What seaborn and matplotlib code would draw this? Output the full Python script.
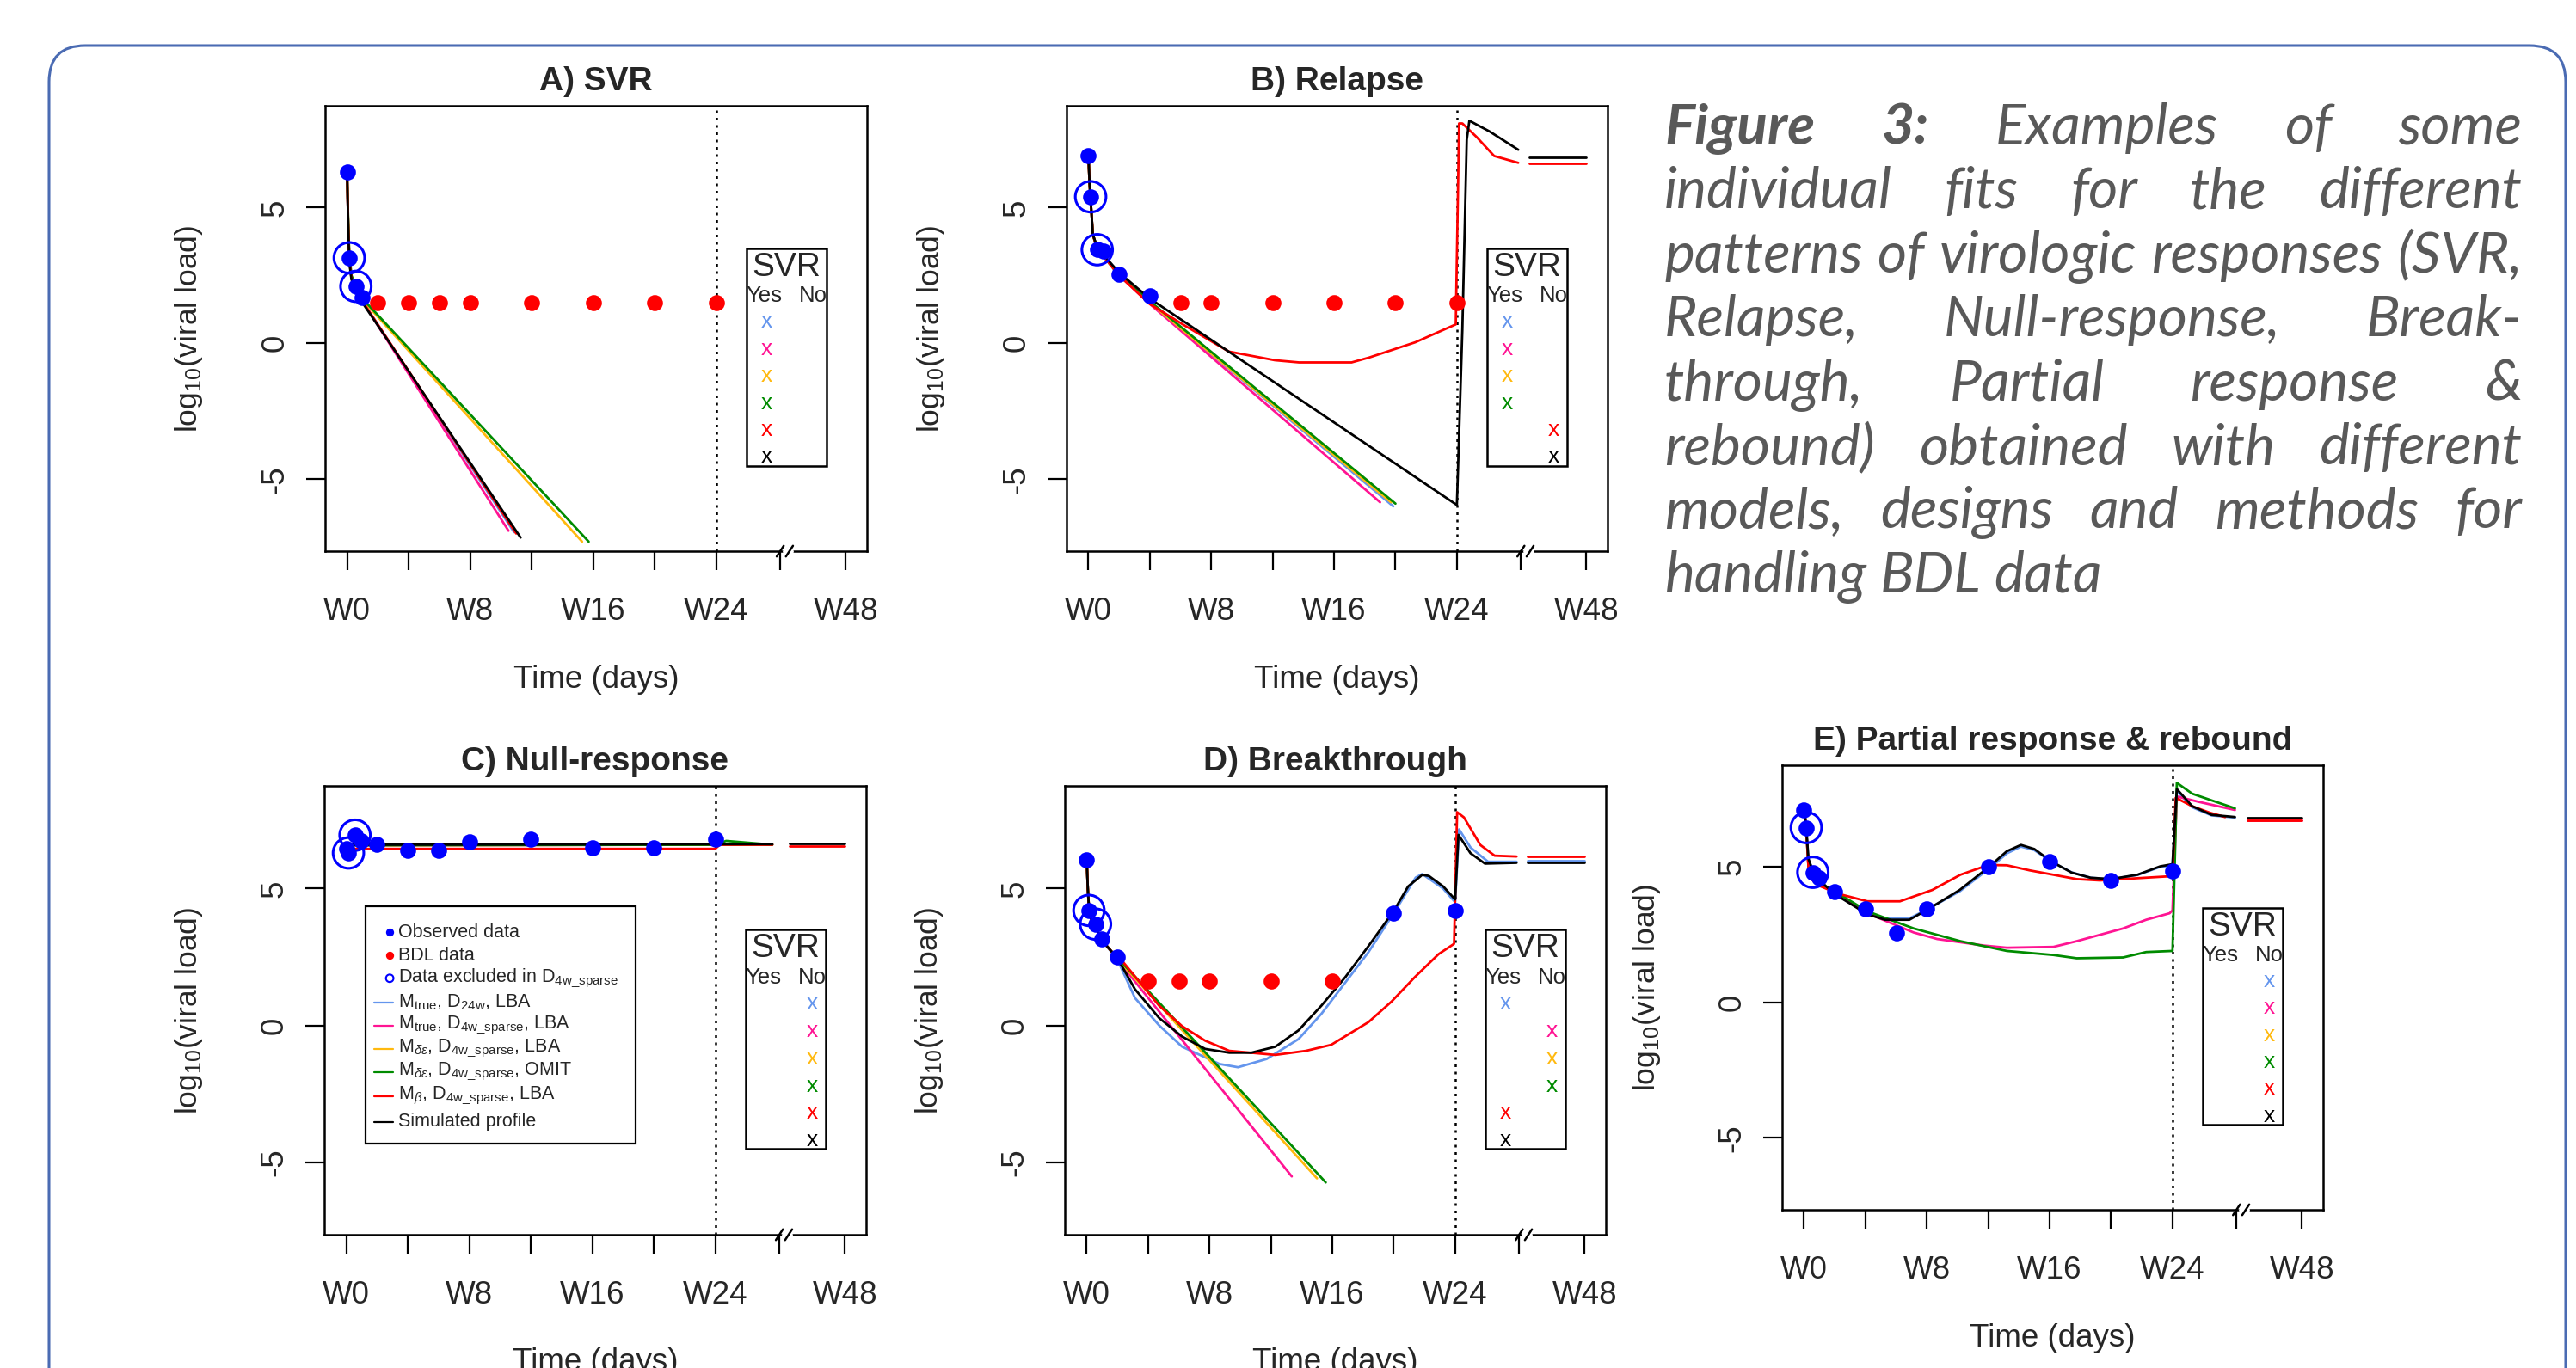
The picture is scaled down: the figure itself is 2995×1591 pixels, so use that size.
import matplotlib
matplotlib.use('Agg')
import matplotlib.pyplot as plt
import matplotlib.patches as mpatches
import matplotlib.transforms as mtransforms
import seaborn as sns

W, H = 2995, 1591

# ------------------------------------------------------------------ data
week_ticks = [0, 28, 56, 84, 112, 140, 168, 197, 227]
week_labels = ['W0', '', 'W8', '', 'W16', '', 'W24', '', 'W48']
end_treatment = 168

models = ['true24', 'truesp', 'de_lba', 'de_omit', 'beta', 'sim']
model_colors = {'true24': '#6495ED', 'truesp': '#FF1493', 'de_lba': '#FFB90F',
                'de_omit': '#008B00', 'beta': '#FF0000', 'sim': '#000000'}
model_labels = [r'M$_{\mathrm{true}}$, D$_{\mathrm{24w}}$, LBA',
                r'M$_{\mathrm{true}}$, D$_{\mathrm{4w\_sparse}}$, LBA',
                r'M$_{\delta\varepsilon}$, D$_{\mathrm{4w\_sparse}}$, LBA',
                r'M$_{\delta\varepsilon}$, D$_{\mathrm{4w\_sparse}}$, OMIT',
                r'M$_{\beta}$, D$_{\mathrm{4w\_sparse}}$, LBA',
                'Simulated profile']

# A) SVR
a_obs_day = [0, 1, 4, 7]
a_obs_vl = [6.3, 3.15, 2.1, 1.7]
a_excl_day = [1, 4]
a_excl_vl = [3.15, 2.1]
a_bdl_day = [14, 28, 42, 56, 84, 112, 140, 168]
a_bdl_vl = [1.5, 1.5, 1.5, 1.5, 1.5, 1.5, 1.5, 1.5]
a_svr = ['Yes', 'Yes', 'Yes', 'Yes', 'Yes', 'Yes']
a_fits = {
    'true24': ([0, 0.5, 1, 2, 4, 7, 76], [6.3, 4.4, 3.1, 2.4, 2.0, 1.55, -6.95]),
    'truesp': ([0, 0.5, 1, 2, 4, 7, 73.5], [6.3, 4.4, 3.1, 2.4, 2.0, 1.55, -6.9]),
    'de_lba': ([0, 0.5, 1, 2, 4, 7, 107], [6.3, 4.5, 3.2, 2.45, 2.05, 1.6, -7.3]),
    'de_omit': ([0, 0.5, 1, 2, 4, 7, 110], [6.3, 4.6, 3.3, 2.5, 2.1, 1.65, -7.3]),
    'beta': ([0, 0.5, 1, 2, 4, 7, 77], [6.3, 4.4, 3.1, 2.4, 2.0, 1.55, -7.0]),
    'sim': ([0, 0.5, 1, 2, 4, 7, 79], [6.3, 4.3, 3.0, 2.35, 2.0, 1.5, -7.15]),
}
a_post = {}

# B) Relapse
b_obs_day = [0, 1, 4, 7, 14, 28]
b_obs_vl = [6.9, 5.4, 3.45, 3.4, 2.55, 1.75]
b_excl_day = [1, 4]
b_excl_vl = [5.4, 3.45]
b_bdl_day = [42, 56, 84, 112, 140, 168]
b_bdl_vl = [1.5, 1.5, 1.5, 1.5, 1.5, 1.5]
b_svr = ['Yes', 'Yes', 'Yes', 'Yes', 'No', 'No']
b_fits = {
    'true24': ([0, 0.5, 1, 2, 4, 7, 14, 28, 139], [6.9, 5.9, 5.3, 4.0, 3.5, 3.2, 2.5, 1.5, -6.0]),
    'truesp': ([0, 0.5, 1, 2, 4, 7, 14, 28, 133], [6.9, 5.9, 5.3, 4.0, 3.5, 3.2, 2.5, 1.45, -5.85]),
    'de_lba': ([0, 0.5, 1, 2, 4, 7, 14, 28, 138], [6.9, 5.9, 5.3, 4.0, 3.5, 3.2, 2.5, 1.5, -5.85]),
    'de_omit': ([0, 0.5, 1, 2, 4, 7, 14, 28, 140], [6.9, 5.9, 5.3, 4.0, 3.5, 3.2, 2.5, 1.55, -5.9]),
    'beta': ([0, 0.5, 1, 2, 4, 7, 14, 28, 43, 64, 85, 96, 120, 128, 149, 167.5, 169, 170.5, 177, 185, 196],
             [6.9, 5.9, 5.3, 4.0, 3.5, 3.2, 2.5, 1.45, 0.7, -0.3, -0.62, -0.7, -0.7, -0.52, 0.04, 0.7,
              8.1, 8.1, 7.6, 6.9, 6.65]),
    'sim': ([0, 0.5, 1, 2, 4, 7, 14, 28, 168, 170.5, 172.5, 173.7, 183, 196],
            [6.9, 5.9, 5.3, 4.0, 3.55, 3.25, 2.6, 1.65, -5.95, 0.5, 7.5, 8.2, 7.8, 7.13]),
}
b_post = {'beta': ([201, 227], [6.64, 6.64]), 'sim': ([201, 227], [6.85, 6.85])}

# C) Null-response
c_obs_day = [0, 1, 4, 7, 14, 28, 42, 56, 84, 112, 140, 168]
c_obs_vl = [6.45, 6.3, 6.95, 6.75, 6.6, 6.4, 6.4, 6.7, 6.8, 6.5, 6.5, 6.8]
c_excl_day = [1, 4]
c_excl_vl = [6.3, 6.95]
c_bdl_day = []
c_bdl_vl = []
c_svr = ['No', 'No', 'No', 'No', 'No', 'No']
c_fits = {
    'true24': ([0, 194], [6.58, 6.6]),
    'truesp': ([0, 194], [6.58, 6.6]),
    'de_lba': ([0, 194], [6.58, 6.6]),
    'de_omit': ([0, 168, 173, 194], [6.58, 6.6, 6.74, 6.6]),
    'beta': ([0, 168, 170, 194], [6.45, 6.45, 6.6, 6.6]),
    'sim': ([0, 194], [6.6, 6.62]),
}
c_post = {'beta': ([202, 227], [6.56, 6.56]), 'sim': ([202, 227], [6.63, 6.63])}

# D) Breakthrough
d_obs_day = [0, 1, 4, 7, 14, 140, 168]
d_obs_vl = [6.05, 4.2, 3.7, 3.15, 2.5, 4.1, 4.2]
d_excl_day = [1, 4]
d_excl_vl = [4.2, 3.7]
d_bdl_day = [28, 42, 56, 84, 112]
d_bdl_vl = [1.62, 1.62, 1.62, 1.62, 1.62]
d_svr = ['Yes', 'No', 'No', 'No', 'Yes', 'Yes']
d_fits = {
    'true24': ([0, 0.5, 1, 2, 4, 7, 14, 22, 33, 43.5, 60.5, 69, 82, 96.6, 107, 128.5, 140, 150, 153,
                162.5, 168, 169.8, 175, 183, 196],
               [6.05, 5.0, 4.3, 3.9, 3.6, 3.1, 2.4, 1.0, 0.0, -0.78, -1.41, -1.53, -1.23, -0.5, 0.42, 2.68,
                4.1, 5.4, 5.53, 5.0, 4.5, 7.16, 6.5, 5.98, 5.98]),
    'truesp': ([0, 0.5, 1, 2, 4, 7, 14, 16, 93.5], [6.05, 5.0, 4.3, 3.9, 3.6, 3.1, 2.45, 2.2, -5.52]),
    'de_lba': ([0, 0.5, 1, 2, 4, 7, 14, 16, 105], [6.05, 5.0, 4.3, 3.9, 3.6, 3.1, 2.45, 2.25, -5.59]),
    'de_omit': ([0, 0.5, 1, 2, 4, 7, 14, 16, 109], [6.05, 5.0, 4.3, 3.9, 3.6, 3.1, 2.45, 2.3, -5.74]),
    'beta': ([0, 0.5, 1, 2, 4, 7, 14, 16, 33, 43.5, 54, 65, 86, 100, 111.5, 128.5, 139, 149.7, 160.4,
              167.5, 168.9, 172, 179.5, 186, 196],
             [6.05, 5.0, 4.3, 3.9, 3.6, 3.1, 2.45, 2.37, 0.72, -0.03, -0.56, -0.93, -1.08, -0.93, -0.71,
              0.12, 0.87, 1.77, 2.6, 2.98, 7.79, 7.6, 6.59, 6.2, 6.17]),
    'sim': ([0, 0.5, 1, 2, 4, 7, 14, 22, 33, 43.5, 54, 65, 75, 86, 96.6, 107, 118, 128.5, 140, 146.6,
             153, 156, 162.5, 168, 169.5, 175, 181.6, 196],
            [6.05, 5.0, 4.3, 3.9, 3.6, 3.1, 2.45, 1.32, 0.27, -0.41, -0.86, -1.0, -1.0, -0.78, -0.18, 0.72,
             1.77, 2.9, 4.18, 5.08, 5.5, 5.46, 5.08, 4.6, 6.96, 6.29, 5.91, 5.94]),
}
d_post = {'true24': ([201, 227], [6.02, 6.02]), 'beta': ([201, 227], [6.17, 6.17]),
          'sim': ([201, 227], [5.94, 5.94])}

# E) Partial response & rebound
e_obs_day = [0, 1, 4, 7, 14, 28, 42, 56, 84, 112, 140, 168]
e_obs_vl = [7.1, 6.45, 4.8, 4.6, 4.1, 3.45, 2.55, 3.45, 5.0, 5.2, 4.5, 4.85]
e_excl_day = [1, 4]
e_excl_vl = [6.45, 4.8]
e_bdl_day = []
e_bdl_vl = []
e_svr = ['No', 'No', 'No', 'No', 'No', 'No']
e_fits = {
    'true24': ([0, 0.5, 1, 2, 4, 7, 14, 28.9, 37, 48, 56.6, 71, 84.6, 92.5, 98.9, 105, 112.6, 122, 130.7,
                140, 152, 162.4, 168, 170, 177, 185.8, 196.5],
               [7.1, 6.8, 6.4, 5.3, 4.85, 4.5, 4.0, 3.3, 3.1, 3.1, 3.45, 4.1, 4.95, 5.5, 5.75, 5.62, 5.2,
                4.8, 4.6, 4.55, 4.7, 5.0, 5.05, 7.8, 7.2, 6.9, 6.82]),
    'truesp': ([0, 0.5, 1, 2, 4, 7, 16, 28.9, 50, 60.7, 82, 92.5, 113.7, 124.3, 145.5, 156, 166.7, 168,
                170, 180, 196.5],
               [7.1, 6.8, 6.4, 5.0, 4.5, 4.35, 4.0, 3.29, 2.58, 2.34, 2.1, 2.02, 2.05, 2.26, 2.73, 3.05,
                3.29, 3.4, 7.6, 7.4, 7.1]),
    'de_omit': ([0, 0.5, 1, 2, 4, 7, 16, 28.9, 50, 71.3, 92.5, 113.7, 124.3, 145.5, 156, 168, 170, 177,
                 196.5],
                [7.1, 6.8, 6.4, 5.0, 4.6, 4.4, 4.0, 3.36, 2.73, 2.26, 1.9, 1.75, 1.63, 1.66, 1.86, 1.9,
                 8.1, 7.7, 7.16]),
    'beta': ([0, 0.5, 1, 2, 4, 7, 16, 28.9, 43.7, 58.5, 71.3, 84, 92.5, 103, 113.7, 124.3, 134.9, 168,
              169.5, 177, 185, 192],
             [7.1, 6.8, 6.4, 5.0, 4.5, 4.3, 4.0, 3.73, 3.73, 4.15, 4.71, 5.07, 5.06, 4.87, 4.71, 4.55,
              4.5, 4.66, 7.55, 7.24, 7.0, 6.84]),
    'sim': ([0, 0.5, 1, 2, 4, 7, 14, 28.9, 37, 48, 56.6, 71, 84.6, 92.5, 98.9, 105, 112.6, 122, 130.7,
             140, 152, 162.4, 168, 170, 177, 185.8, 196.5],
            [7.1, 6.8, 6.4, 5.3, 4.85, 4.5, 4.0, 3.25, 3.05, 3.05, 3.44, 4.15, 5.02, 5.58, 5.81, 5.66,
             5.21, 4.79, 4.6, 4.55, 4.71, 5.02, 5.1, 7.87, 7.24, 6.92, 6.84]),
}
e_post = {'truesp': ([202, 227], [6.73, 6.73]), 'beta': ([202, 227], [6.73, 6.73]),
          'sim': ([202, 227], [6.81, 6.81])}

caption_lines = ['Figure 3: Examples of some',
                 'individual fits for the different',
                 'patterns of virologic responses (SVR,',
                 'Relapse, Null-response, Break-',
                 'through, Partial response &',
                 'rebound) obtained with different',
                 'models, designs and methods for',
                 'handling BDL data']

# ------------------------------------------------------------------ style
sns.set_style('white')
plt.rcParams['font.family'] = ['Liberation Sans', 'DejaVu Sans']
plt.rcParams['mathtext.fontset'] = 'custom'
plt.rcParams['mathtext.rm'] = 'Liberation Sans'
plt.rcParams['mathtext.it'] = 'Liberation Sans:italic'
plt.rcParams['mathtext.bf'] = 'Liberation Sans:bold'
plt.rcParams['axes.unicode_minus'] = False

fig = plt.figure(figsize=(W / 100, H / 100), dpi=100)
fig.patch.set_facecolor('white')


def add_panel(left, top, w, h):
    return fig.add_axes([left / W, 1 - (top + h) / H, w / W, h / H])


svr_rows = [0.8, -0.2, -1.2, -2.2, -3.18, -4.18]


def draw_panel(ax, h, title, obs_day, obs_vl, excl_day, excl_vl, bdl_day, bdl_vl, fits, post, svr):
    for m in models:
        if m in fits:
            sns.lineplot(x=fits[m][0], y=fits[m][1], ax=ax, color=model_colors[m], lw=2.0,
                         estimator=None, sort=False, zorder=2)
        if m in post:
            sns.lineplot(x=post[m][0], y=post[m][1], ax=ax, color=model_colors[m], lw=2.0,
                         estimator=None, sort=False, zorder=2)
    ax.axvline(end_treatment, color='black', ls=(0, (1.2, 2.2)), lw=1.8, zorder=1.5)
    if bdl_day:
        sns.scatterplot(x=bdl_day, y=bdl_vl, ax=ax, color='#FF0000', s=180, linewidth=0, zorder=3)
    sns.scatterplot(x=obs_day, y=obs_vl, ax=ax, color='#0000FF', s=180, linewidth=0, zorder=3)
    sns.scatterplot(x=excl_day, y=excl_vl, ax=ax, s=660, facecolor='none', edgecolor='#0000FF',
                    linewidth=2.2, zorder=3.5)

    ax.set_xlim(-10, 236.7)
    ax.set_ylim(-7.65, 8.75)
    ax.set_xticks(week_ticks)
    ax.set_xticklabels(week_labels)
    ax.set_yticks([-5, 0, 5])
    ax.set_yticklabels(['-5', '0', '5'], rotation=90, va='center')
    ax.tick_params(axis='both', direction='out', length=16, width=1.6, labelsize=26.5, color='black',
                   left=True, bottom=True)
    ax.tick_params(axis='x', pad=22)
    ax.tick_params(axis='y', pad=13)
    for sp in ax.spines.values():
        sp.set_visible(True)
        sp.set_color('black')
        sp.set_linewidth(1.8)

    ax.set_xlabel('Time (days)', fontsize=26.5)
    ax.set_ylabel(r'log$_{\mathrm{10}}$(viral load)', fontsize=25.5)
    ax.xaxis.set_label_coords(0.5, -149 / h)
    ax.xaxis.label.set_va('center')
    ax.yaxis.set_label_coords(-158 / 630, 0.5)
    ax.yaxis.label.set_va('center')
    ax.text(0.5, 1 + 18 / h, title, transform=ax.transAxes, ha='center', va='baseline',
            fontsize=28, fontweight='bold')

    # axis break on the time axis
    tb = mtransforms.blended_transform_factory(ax.transData, ax.transAxes)
    ax.plot([199.2, 202.2], [0, 0], transform=tb, color='white', lw=3.5, clip_on=False, zorder=6)
    for xb in (197.2, 201.4):
        ax.plot([xb - 1.6, xb + 1.6], [-0.012, 0.012], transform=tb, color='black', lw=1.8,
                clip_on=False, zorder=7)

    # SVR box
    ax.add_patch(mpatches.Rectangle((181.7, -4.5), 36.7, 8.0, fill=False, ec='black', lw=1.8, zorder=5))
    ax.text(200.1, 2.8, 'SVR', ha='center', va='center', fontsize=28, zorder=5)
    ax.text(189.8, 1.75, 'Yes', ha='center', va='center', fontsize=18.5, zorder=5)
    ax.text(212.0, 1.75, 'No', ha='center', va='center', fontsize=18.5, zorder=5)
    for m, s, yr in zip(models, svr, svr_rows):
        xc = 191.0 if s == 'Yes' else 212.0
        ax.text(xc, yr, 'x', color=model_colors[m], ha='center', va='center', fontsize=19, zorder=5)


ax_a = add_panel(378, 123, 630, 518)
ax_b = add_panel(1240, 123, 629, 518)
ax_c = add_panel(377, 914, 630, 522)
ax_d = add_panel(1238, 914, 629, 522)
ax_e = add_panel(2072, 890, 629, 517)

draw_panel(ax_a, 518, 'A) SVR', a_obs_day, a_obs_vl, a_excl_day, a_excl_vl, a_bdl_day, a_bdl_vl,
           a_fits, a_post, a_svr)
draw_panel(ax_b, 518, 'B) Relapse', b_obs_day, b_obs_vl, b_excl_day, b_excl_vl, b_bdl_day, b_bdl_vl,
           b_fits, b_post, b_svr)
draw_panel(ax_c, 522, 'C) Null-response', c_obs_day, c_obs_vl, c_excl_day, c_excl_vl, c_bdl_day, c_bdl_vl,
           c_fits, c_post, c_svr)
draw_panel(ax_d, 522, 'D) Breakthrough', d_obs_day, d_obs_vl, d_excl_day, d_excl_vl, d_bdl_day, d_bdl_vl,
           d_fits, d_post, d_svr)
draw_panel(ax_e, 517, 'E) Partial response & rebound', e_obs_day, e_obs_vl, e_excl_day, e_excl_vl,
           e_bdl_day, e_bdl_vl, e_fits, e_post, e_svr)

# legend drawn inside panel C
leg_rows = [3.4, 2.56, 1.72, 0.83, 0.0, -0.86, -1.71, -2.59, -3.52]
ax_c.add_patch(mpatches.Rectangle((8.9, -4.32), 123.0, 8.68, facecolor='white', ec='black', lw=1.6, zorder=4))
ax_c.scatter([19.8], [leg_rows[0]], s=45, color='#0000FF', lw=0, zorder=5)
ax_c.scatter([19.8], [leg_rows[1]], s=45, color='#FF0000', lw=0, zorder=5)
ax_c.scatter([19.8], [leg_rows[2]], s=40, facecolor='none', edgecolor='#0000FF', lw=1.5, zorder=5)
leg_text = ['Observed data', 'BDL data', r'Data excluded in D$_{\mathrm{4w\_sparse}}$'] + model_labels
for i, m in enumerate(models):
    ax_c.plot([12.8, 21.3], [leg_rows[i + 3]] * 2, color=model_colors[m], lw=1.6, zorder=5)
for yr, t in zip(leg_rows, leg_text):
    ax_c.text(23.8, yr, t, fontsize=15.5, ha='left', va='center', zorder=5)

# rounded frame around the figure
frame = mpatches.FancyBboxPatch((57, -80), 2983 - 57, H - 53 + 80,
                                boxstyle='round,pad=0,rounding_size=42', fill=False,
                                ec='#4A6BB3', lw=2.2, transform=mtransforms.IdentityTransform())
fig.add_artist(frame)

# justified caption
fig.canvas.draw()
rend = fig.canvas.get_renderer()
cap_left, cap_right = 1935, 2932
cap_family = ['Lato', 'DejaVu Sans']
probe = fig.text(0, 0, caption_lines[2], fontsize=40, family=cap_family, style='italic')
cap_fs = 40 * (cap_right - cap_left - 8) / probe.get_window_extent(rend).width
probe.remove()
probe = fig.text(0, 0, 'a a', fontsize=cap_fs, family=cap_family, style='italic')
w2 = probe.get_window_extent(rend).width
probe.set_text('aa')
space_w = w2 - probe.get_window_extent(rend).width
probe.remove()

for i, line in enumerate(caption_lines):
    y = 1 - (168 + 74.4 * i) / H
    words = line.split()
    arts = []
    for j, wd in enumerate(words):
        bold = (i == 0 and j < 2)
        arts.append(fig.text(0, y, wd, fontsize=cap_fs, family=cap_family, style='italic',
                             fontweight='bold' if bold else 'normal', color='#595959',
                             ha='left', va='baseline'))
    widths = [a.get_window_extent(rend).width for a in arts]
    if i < len(caption_lines) - 1 and len(words) > 1:
        gap = (cap_right - cap_left - sum(widths)) / (len(words) - 1)
    else:
        gap = space_w
    x = cap_left
    for a, wd in zip(arts, widths):
        a.set_x(x / W)
        x += wd + gap

fig.savefig('out.png', dpi=100)
